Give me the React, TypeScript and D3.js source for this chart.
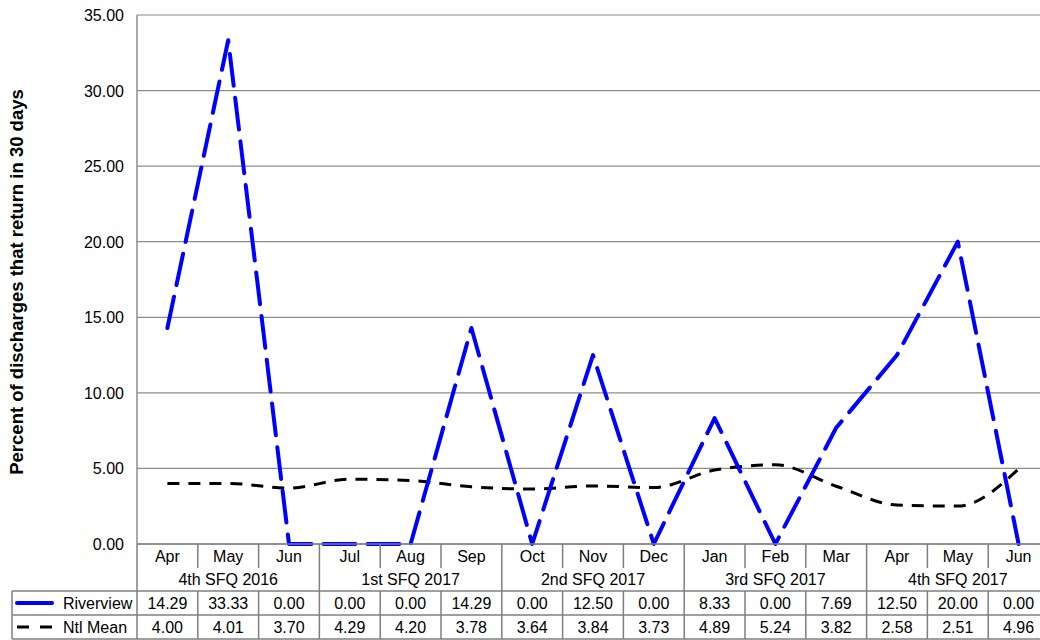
import React from "react";
import * as d3 from "d3";

const months = ["Apr", "May", "Jun", "Jul", "Aug", "Sep", "Oct", "Nov", "Dec", "Jan", "Feb", "Mar", "Apr", "May", "Jun"];
const quarters = ["4th SFQ 2016", "1st SFQ 2017", "2nd SFQ 2017", "3rd SFQ 2017", "4th SFQ 2017"];
const riverview = [14.29, 33.33, 0.0, 0.0, 0.0, 14.29, 0.0, 12.5, 0.0, 8.33, 0.0, 7.69, 12.5, 20.0, 0.0];
const ntlMean = [4.0, 4.01, 3.7, 4.29, 4.2, 3.78, 3.64, 3.84, 3.73, 4.89, 5.24, 3.82, 2.58, 2.51, 4.96];
const yTicks = [0, 5, 10, 15, 20, 25, 30, 35];

const W = 1040;
const H = 640;
const left = 137;
const right = 1049;
const top = 15;
const bottom = 544;
const FONT = "Liberation Sans, Arial, sans-serif";

export default function App() {
  const x = d3.scaleBand<number>().domain(months.map((_, i) => i)).range([left, right]).padding(0);
  const y = d3.scaleLinear().domain([0, 35]).range([bottom, top]);
  const cx = (i: number) => (x(i) as number) + x.bandwidth() / 2;
  const bw = x.bandwidth();

  const riverLine = d3
    .line<number>()
    .x((_, i) => cx(i))
    .y((d) => y(d))
    .curve(d3.curveLinear)(riverview) as string;
  const ntlLine = d3
    .line<number>()
    .x((_, i) => cx(i))
    .y((d) => y(d))
    .curve(d3.curveMonotoneX)(ntlMean) as string;

  const rowMonthBottom = 568;
  const rowQuarterBottom = 591;
  const rowRiverBottom = 615;
  const rowNtlBottom = 639;
  const legendLeft = 12;
  const gridColor = "#8c8c8c";
  const tableColor = "#7f7f7f";
  const fs = 16;

  return (
    <svg width={W} height={H} style={{ position: "absolute", left: 0, top: 0, background: "#fff" }} fontFamily={FONT}>
      {/* horizontal gridlines */}
      {yTicks.map((t) => (
        <line key={t} x1={left} x2={right} y1={y(t)} y2={y(t)} stroke={gridColor} strokeWidth={1.2} />
      ))}
      {/* y axis */}
      <line x1={left} x2={left} y1={top} y2={bottom} stroke={gridColor} strokeWidth={1.5} />
      {yTicks.map((t) => (
        <text key={"l" + t} x={124} y={y(t) + 6} textAnchor="end" fontSize={fs} fill="#000">
          {t.toFixed(2)}
        </text>
      ))}
      <text
        transform={`translate(23,282) rotate(-90)`}
        textAnchor="middle"
        fontSize={18.5}
        fontWeight="bold"
        fill="#000"
      >
        Percent of discharges that return in 30 days
      </text>

      {/* series */}
      <path d={ntlLine} fill="none" stroke="#000" strokeWidth={3} strokeDasharray="12 9" />
      <path d={riverLine} fill="none" stroke="#0000ff" strokeWidth={4} strokeDasharray="32 12" strokeLinejoin="round" strokeLinecap="round" />

      {/* data table */}
      <g stroke={tableColor} strokeWidth={1.5}>
        <line x1={left} x2={right} y1={bottom} y2={bottom} />
        <line x1={legendLeft} x2={right} y1={rowQuarterBottom} y2={rowQuarterBottom} />
        <line x1={legendLeft} x2={right} y1={rowRiverBottom} y2={rowRiverBottom} />
        <line x1={legendLeft} x2={right} y1={rowNtlBottom} y2={rowNtlBottom} />
        <line x1={legendLeft} x2={legendLeft} y1={rowQuarterBottom} y2={rowNtlBottom} />
        <line x1={left} x2={left} y1={bottom} y2={rowNtlBottom} />
        {months.map((_, i) =>
          i === 0 ? null : (
            <line
              key={"d" + i}
              x1={x(i) as number}
              x2={x(i) as number}
              y1={bottom}
              y2={i % 3 === 0 ? rowNtlBottom : rowMonthBottom}
            />
          )
        )}
        {months.map((_, i) =>
          i === 0 || i % 3 === 0 ? null : (
            <line key={"v" + i} x1={x(i) as number} x2={x(i) as number} y1={rowQuarterBottom} y2={rowNtlBottom} />
          )
        )}
      </g>
      {months.map((m, i) => (
        <text key={"m" + i} x={cx(i)} y={562} textAnchor="middle" fontSize={fs} fill="#000">
          {m}
        </text>
      ))}
      {quarters.map((q, k) => (
        <text key={"q" + k} x={(x(k * 3) as number) + bw * 1.5} y={585} textAnchor="middle" fontSize={fs} fill="#000">
          {q}
        </text>
      ))}
      {riverview.map((v, i) => (
        <text key={"r" + i} x={cx(i)} y={609} textAnchor="middle" fontSize={fs} fill="#000">
          {v.toFixed(2)}
        </text>
      ))}
      {ntlMean.map((v, i) => (
        <text key={"n" + i} x={cx(i)} y={633} textAnchor="middle" fontSize={fs} fill="#000">
          {v.toFixed(2)}
        </text>
      ))}

      {/* legend keys */}
      <line x1={17} x2={52} y1={603} y2={603} stroke="#0000ff" strokeWidth={4} strokeLinecap="round" />
      <text x={63} y={609} fontSize={fs} fill="#000">Riverview</text>
      <line x1={17} x2={52} y1={627} y2={627} stroke="#000" strokeWidth={3} strokeDasharray="12 11" />
      <text x={63} y={633} fontSize={fs} fill="#000">Ntl Mean</text>
    </svg>
  );
}
